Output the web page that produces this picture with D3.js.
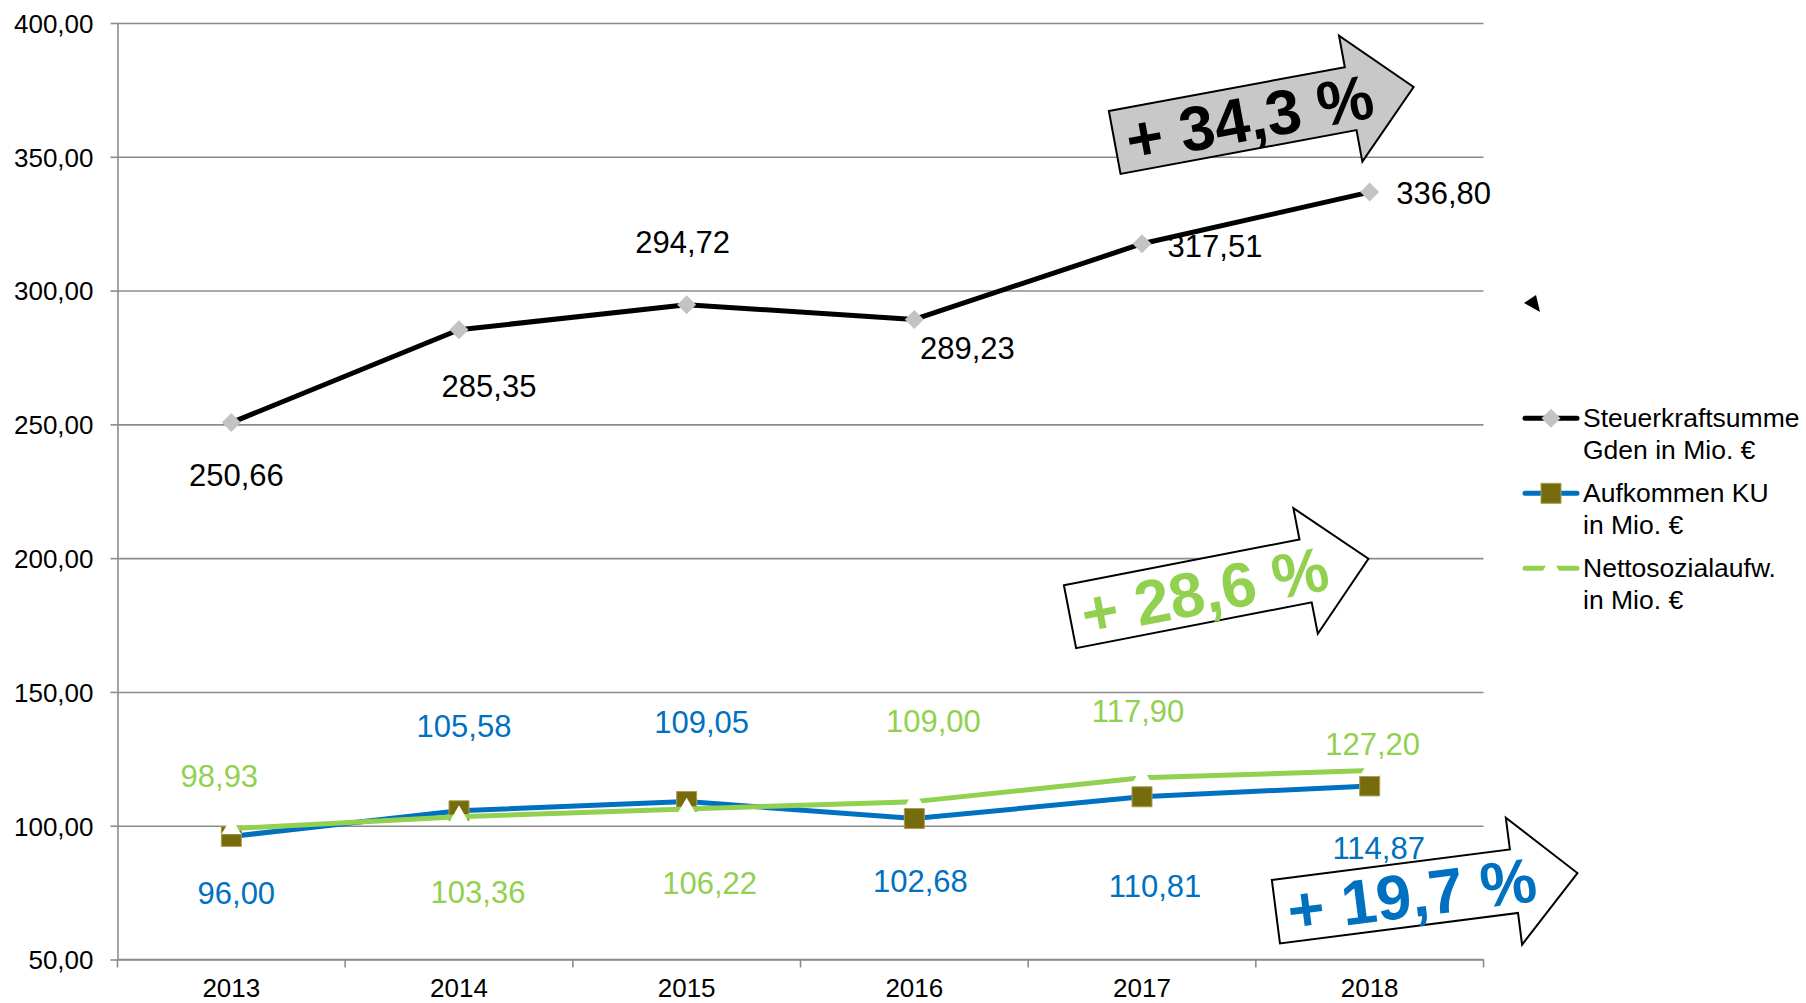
<!DOCTYPE html>
<html>
<head>
<meta charset="utf-8">
<script src="https://cdn.jsdelivr.net/npm/d3@7"></script>
<style>
  body { margin: 0; background: #fff; }
  text { font-family: "Liberation Sans", Arial, sans-serif; }
</style>
</head>
<body>
<div id="chart"></div>
<script>
// Data
var years = ["2013", "2014", "2015", "2016", "2017", "2018"];
var steuerkraft = [250.66, 285.35, 294.72, 289.23, 317.51, 336.80];
var aufkommenKU = [96.00, 105.58, 109.05, 102.68, 110.81, 114.87];
// plotted green points (the last one sits lower than its label says)
var nettosozial = [98.93, 103.36, 106.22, 109.00, 117.90, 120.60];
var nettosozialLabels = [98.93, 103.36, 106.22, 109.00, 117.90, 127.20];
var yTicks = [50, 100, 150, 200, 250, 300, 350, 400];
var legendLines = [
  ["Steuerkraftsumme", "Gden in Mio. €"],
  ["Aufkommen KU", "in Mio. €"],
  ["Nettosozialaufw.", "in Mio. €"]
];
var growthTexts = ["+ 34,3 %", "+ 28,6 %", "+ 19,7 %"];

// label placement (px offset of label centre from its point)
var blackOffsets = [[5, 52], [30, 56], [-4, -63], [53, 28], [73, 2], [74, 1]];
var blueOffsets = [[5, 56], [5, -85], [15, -80], [6, 62], [13, 89], [9, 62]];
var greenOffsets = [[-12, -53], [19, 75], [23, 74], [19, -81], [-4, -67], [3, -27]];

var svgWidth = 1806;
var svgHeight = 1003;
var plot = { left: 117.5, right: 1483.5, top: 23, bottom: 959.5 };

var blue = "#0070c0";
var green = "#92d050";
var olive = "#776c0c";
var gridColor = "#8c8c8c";

var locale = d3.formatLocale({ decimal: ",", thousands: ".", grouping: [3], currency: ["", " €"] });
var fmt = locale.format(".2f");

var svg = d3.select("#chart")
  .append("svg")
  .attr("width", svgWidth)
  .attr("height", svgHeight);

var x = d3.scaleBand()
  .domain(years)
  .range([plot.left, plot.right]);

var y = d3.scaleLinear()
  .domain([50, 400])
  .range([plot.bottom, plot.top]);

function cx(d, i) { return x(years[i]) + x.bandwidth() / 2; }

// Gridlines
svg.append("g")
  .attr("transform", `translate(${plot.left},0)`)
  .call(d3.axisLeft(y).tickValues(yTicks).tickSize(-(plot.right - plot.left)).tickFormat(""))
  .call(g => g.select(".domain").remove())
  .selectAll("line")
  .attr("stroke", gridColor)
  .attr("stroke-width", 1.6);

// Y axis
var yAxis = svg.append("g")
  .attr("transform", `translate(${plot.left},0)`)
  .call(d3.axisLeft(y).tickValues(yTicks).tickSize(7).tickSizeOuter(0).tickPadding(17).tickFormat(fmt));
yAxis.select(".domain").attr("stroke", gridColor).attr("stroke-width", 1.6);
yAxis.selectAll("line").attr("stroke", gridColor).attr("stroke-width", 1.6);
yAxis.selectAll("text")
  .attr("font-size", "26px")
  .attr("fill", "#000")
  .attr("dy", "0.36em")
  .style("font-family", "Liberation Sans, Arial, sans-serif");

// X axis: line, boundary ticks, labels
var xAxis = svg.append("g");
xAxis.append("line")
  .attr("x1", plot.left).attr("x2", plot.right)
  .attr("y1", plot.bottom).attr("y2", plot.bottom)
  .attr("stroke", gridColor).attr("stroke-width", 1.6);
xAxis.selectAll(".xtick")
  .data(years.concat(["end"]))
  .enter()
  .append("line")
  .attr("x1", (d, i) => plot.left + i * x.bandwidth())
  .attr("x2", (d, i) => plot.left + i * x.bandwidth())
  .attr("y1", plot.bottom)
  .attr("y2", plot.bottom + 8)
  .attr("stroke", gridColor).attr("stroke-width", 1.6);
xAxis.selectAll(".xlabel")
  .data(years)
  .enter()
  .append("text")
  .attr("x", d => x(d) + x.bandwidth() / 2)
  .attr("y", 997)
  .attr("text-anchor", "middle")
  .attr("font-size", "26px")
  .text(d => d);

var line = d3.line()
  .x(cx)
  .y(d => y(d));

// Black series
svg.append("path")
  .datum(steuerkraft)
  .attr("d", line)
  .attr("fill", "none")
  .attr("stroke", "#000")
  .attr("stroke-width", 5)
  .attr("stroke-linejoin", "round");

svg.selectAll(".diamond")
  .data(steuerkraft)
  .enter()
  .append("path")
  .attr("d", d3.symbol().type(d3.symbolSquare).size(180))
  .attr("transform", (d, i) => `translate(${cx(d, i)},${y(d)}) rotate(45)`)
  .attr("fill", "#c3c3c3");

// Blue series
svg.append("path")
  .datum(aufkommenKU)
  .attr("d", line)
  .attr("fill", "none")
  .attr("stroke", blue)
  .attr("stroke-width", 5)
  .attr("stroke-linejoin", "round");

svg.selectAll(".square")
  .data(aufkommenKU)
  .enter()
  .append("path")
  .attr("d", d3.symbol().type(d3.symbolSquare).size(400))
  .attr("transform", (d, i) => `translate(${cx(d, i)},${y(d)})`)
  .attr("fill", olive)
  .attr("stroke", "#a99c52")
  .attr("stroke-width", 1);

// Green series
svg.append("path")
  .datum(nettosozial)
  .attr("d", line)
  .attr("fill", "none")
  .attr("stroke", green)
  .attr("stroke-width", 5)
  .attr("stroke-linejoin", "round");

svg.selectAll(".triangle")
  .data(nettosozial)
  .enter()
  .append("path")
  .attr("d", d3.symbol().type(d3.symbolTriangle).size(170))
  .attr("transform", (d, i) => `translate(${cx(d, i)},${y(d)})`)
  .attr("fill", "#fff");

// Data labels
function addLabels(values, plotted, offsets, color) {
  svg.append("g")
    .selectAll("text")
    .data(values)
    .enter()
    .append("text")
    .attr("x", (d, i) => cx(d, i) + offsets[i][0])
    .attr("y", (d, i) => y(plotted[i]) + offsets[i][1])
    .attr("dy", "0.36em")
    .attr("text-anchor", "middle")
    .attr("font-size", "31px")
    .attr("fill", color)
    .text(d => fmt(d));
}
addLabels(steuerkraft, steuerkraft, blackOffsets, "#000");
addLabels(aufkommenKU, aufkommenKU, blueOffsets, blue);
addLabels(nettosozialLabels, nettosozial, greenOffsets, green);

// Growth arrows
var arrowShape = [[0, -32], [240, -32], [240, -64], [304, 0], [240, 64], [240, 32], [0, 32]];
var arrows = [
  { pos: [1114.7, 142.4], angle: -10.5, fill: "#c8c8c8", color: "#000" },
  { pos: [1070, 616.7], angle: -11, fill: "#fff", color: green },
  { pos: [1275.9, 911.7], angle: -7.3, fill: "#fff", color: blue }
];
arrows.forEach(function(a, i) {
  var g = svg.append("g")
    .attr("transform", `translate(${a.pos[0]},${a.pos[1]}) rotate(${a.angle})`);
  g.append("path")
    .attr("d", d3.line()(arrowShape) + "Z")
    .attr("fill", a.fill)
    .attr("stroke", "#000")
    .attr("stroke-width", 2)
    .attr("stroke-linejoin", "miter");
  g.append("text")
    .attr("x", 137)
    .attr("y", 0)
    .attr("dy", "0.36em")
    .attr("text-anchor", "middle")
    .attr("font-size", "63px")
    .attr("font-weight", "bold")
    .attr("fill", a.color)
    .text(growthTexts[i]);
});

// stray little marker right of the plot
svg.append("path")
  .attr("d", "M1524,303L1536,295L1540,312Z")
  .attr("fill", "#000");

// Legend
var legendColors = ["#000", blue, green];
var legend = svg.append("g");
legendLines.forEach(function(lines, i) {
  var ly = 418.3 + i * 75;
  var row = legend.append("g").attr("transform", `translate(0,${ly})`);
  row.append("line")
    .attr("x1", 1525).attr("x2", 1577)
    .attr("y1", 0).attr("y2", 0)
    .attr("stroke", legendColors[i])
    .attr("stroke-width", 5)
    .attr("stroke-linecap", "round");
  var marker = row.append("path").attr("transform", "translate(1551,0)" + (i === 0 ? " rotate(45)" : ""));
  if (i === 0) {
    marker.attr("d", d3.symbol().type(d3.symbolSquare).size(180)).attr("fill", "#c3c3c3");
  } else if (i === 1) {
    marker.attr("d", d3.symbol().type(d3.symbolSquare).size(400)).attr("fill", olive)
      .attr("stroke", "#a99c52").attr("stroke-width", 1);
  } else {
    marker.attr("d", d3.symbol().type(d3.symbolTriangle).size(170)).attr("fill", "#fff");
  }
  lines.forEach(function(t, j) {
    row.append("text")
      .attr("x", 1583)
      .attr("y", 9 + j * 31.6)
      .attr("font-size", "26.5px")
      .attr("fill", "#000")
      .text(t);
  });
});
</script>
</body>
</html>
